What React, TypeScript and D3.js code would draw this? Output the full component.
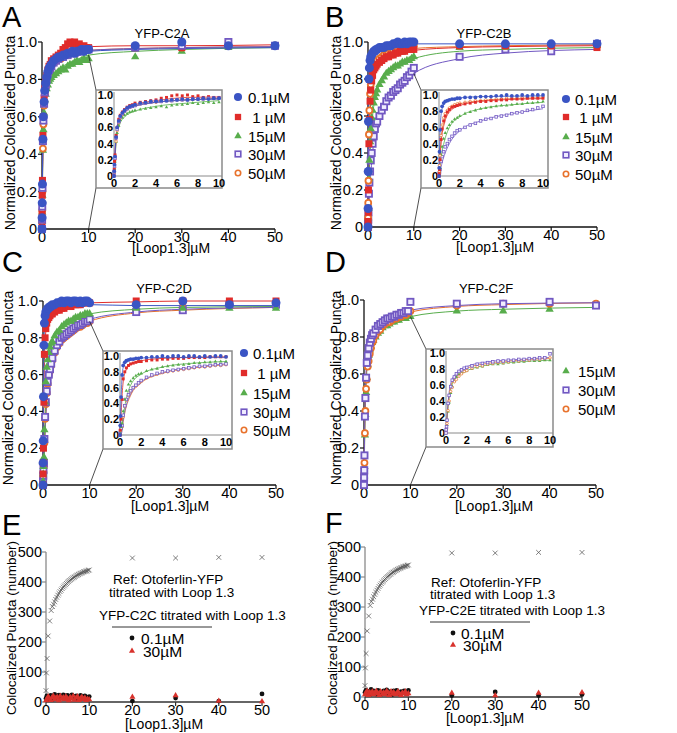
import React from "react";
import * as d3 from "d3";

// ---------------- data ----------------
const titrX = [0, 0.02, 0.05, 0.1, 0.2, 0.3, 0.45, 0.6, 0.8, 1, 1.25, 1.5, 1.75, 2, 2.5, 3, 3.5, 4, 4.5, 5, 5.5, 6, 6.5, 7, 7.5, 8, 8.5, 9, 9.5, 10, 20, 30, 40, 50];
const fitX = [0, 0.1, 0.25, 0.5, 1, 2, 4, 7, 10, 20, 30, 50];
const normTicksY = [0, 0.2, 0.4, 0.6, 0.8, 1.0];
const normTickLabelsY = ["0", "0.2", "0.4", "0.6", "0.8", "1.0"];
const loopTicks = [0, 10, 20, 30, 40, 50];
const insetTicksX = [0, 2, 4, 6, 8, 10];
const countTicksY = [0, 100, 200, 300, 400, 500];
const concKeys = ["0.1", "1", "15", "30", "50"];
const concLabels = ["0.1µM", "\u00a01 µM", "15µM", "30µM", "50µM"];

// Panel A (YFP-C2A)
const a01 = [0.0, 0.06, 0.14, 0.24, 0.48, 0.6, 0.68, 0.74, 0.78, 0.81, 0.84, 0.86, 0.87, 0.88, 0.9, 0.91, 0.92, 0.92, 0.93, 0.93, 0.94, 0.94, 0.95, 0.94, 0.95, 0.95, 0.96, 0.95, 0.96, 0.96, 0.98, 1.0, 0.98, 0.98];
const a1 = [0.01, 0.08, 0.18, 0.26, 0.5, 0.6, 0.7, 0.75, 0.79, 0.82, 0.85, 0.87, 0.88, 0.9, 0.91, 0.92, 0.93, 0.94, 0.96, 0.97, 0.99, 1.0, 0.99, 1.0, 0.98, 0.99, 0.97, 0.98, 0.97, 0.97, 0.97, 0.97, 0.99, 0.98];
const a15 = [0.0, 0.04, 0.09, 0.18, 0.42, 0.53, 0.62, 0.69, 0.72, 0.75, 0.77, 0.79, 0.8, 0.81, 0.82, 0.83, 0.84, 0.85, 0.86, 0.85, 0.87, 0.88, 0.88, 0.89, 0.9, 0.89, 0.9, 0.91, 0.9, 0.91, 0.92, 0.95, 0.97, 0.98];
const a30 = [0.0, 0.05, 0.12, 0.22, 0.47, 0.58, 0.67, 0.73, 0.77, 0.8, 0.83, 0.85, 0.86, 0.87, 0.89, 0.9, 0.91, 0.92, 0.92, 0.93, 0.93, 0.94, 0.94, 0.94, 0.95, 0.95, 0.95, 0.96, 0.96, 0.96, 0.97, 0.98, 1.0, 0.98];
const a50 = [0.0, 0.04, 0.1, 0.2, 0.43, 0.56, 0.66, 0.72, 0.76, 0.8, 0.83, 0.85, 0.86, 0.87, 0.89, 0.9, 0.91, 0.91, 0.92, 0.93, 0.93, 0.94, 0.94, 0.95, 0.95, 0.95, 0.96, 0.96, 0.96, 0.96, 0.97, 0.97, 0.98, 0.98];
const aFit01 = [0, 0.3, 0.55, 0.7, 0.8, 0.87, 0.91, 0.94, 0.95, 0.96, 0.965, 0.97];
const aFit1 = [0, 0.3, 0.56, 0.71, 0.81, 0.88, 0.93, 0.97, 0.975, 0.98, 0.98, 0.985];
const aFit15 = [0, 0.22, 0.47, 0.62, 0.73, 0.8, 0.86, 0.9, 0.93, 0.95, 0.96, 0.97];
const aFit30 = [0, 0.27, 0.52, 0.68, 0.79, 0.86, 0.91, 0.94, 0.955, 0.965, 0.97, 0.975];
const aFit50 = [0, 0.25, 0.5, 0.67, 0.78, 0.86, 0.91, 0.94, 0.955, 0.965, 0.97, 0.975];

// Panel B (YFP-C2B)
const b01 = [0.0, 0.1, 0.3, 0.57, 0.8, 0.86, 0.9, 0.92, 0.93, 0.94, 0.95, 0.95, 0.96, 0.96, 0.97, 0.97, 0.97, 0.98, 0.98, 0.98, 0.99, 0.99, 1.0, 0.99, 0.99, 1.0, 0.99, 1.0, 1.0, 1.0, 0.99, 0.99, 0.99, 0.99];
const b1 = [0.0, 0.03, 0.08, 0.2, 0.45, 0.58, 0.68, 0.74, 0.79, 0.82, 0.85, 0.86, 0.87, 0.88, 0.89, 0.9, 0.91, 0.92, 0.92, 0.93, 0.93, 0.94, 0.94, 0.95, 0.95, 0.95, 0.96, 0.96, 0.96, 0.96, 0.98, 0.98, 0.98, 0.97];
const b15 = [0.0, 0.02, 0.05, 0.1, 0.26, 0.36, 0.46, 0.53, 0.59, 0.63, 0.67, 0.7, 0.72, 0.74, 0.77, 0.79, 0.81, 0.83, 0.84, 0.85, 0.86, 0.87, 0.87, 0.88, 0.89, 0.89, 0.9, 0.9, 0.91, 0.92, 0.97, 0.97, 0.98, 0.98];
const b30 = [0.0, 0.02, 0.04, 0.08, 0.18, 0.24, 0.3, 0.36, 0.4, 0.45, 0.49, 0.53, 0.56, 0.57, 0.6, 0.63, 0.65, 0.68, 0.7, 0.71, 0.73, 0.74, 0.75, 0.77, 0.78, 0.79, 0.81, 0.82, 0.84, 0.86, 0.92, 0.96, 0.95, 0.99];
const b50 = [0.0, 0.05, 0.13, 0.25, 0.5, 0.63, 0.72, 0.77, 0.81, 0.84, 0.86, 0.88, 0.89, 0.9, 0.91, 0.92, 0.93, 0.93, 0.94, 0.94, 0.95, 0.95, 0.96, 0.96, 0.96, 0.97, 0.97, 0.97, 0.98, 0.98, 0.98, 0.98, 0.98, 0.98];
const bFit01 = [0, 0.55, 0.8, 0.89, 0.94, 0.965, 0.98, 0.985, 0.99, 0.99, 0.99, 0.99];
const bFit1 = [0, 0.22, 0.47, 0.64, 0.79, 0.87, 0.92, 0.945, 0.955, 0.97, 0.975, 0.98];
const bFit15 = [0, 0.12, 0.27, 0.42, 0.6, 0.73, 0.83, 0.88, 0.91, 0.95, 0.96, 0.97];
const bFit30 = [0, 0.05, 0.14, 0.25, 0.4, 0.56, 0.68, 0.77, 0.83, 0.91, 0.94, 0.96];
const bFit50 = [0, 0.28, 0.52, 0.68, 0.81, 0.89, 0.93, 0.955, 0.965, 0.975, 0.98, 0.985];

// Panel C (YFP-C2D)
const c01 = [0.0, 0.12, 0.24, 0.48, 0.76, 0.88, 0.92, 0.94, 0.95, 0.96, 0.96, 0.97, 0.97, 0.98, 0.98, 0.99, 0.99, 1.0, 0.99, 1.0, 1.0, 0.99, 1.0, 1.0, 0.99, 1.0, 0.99, 1.0, 1.0, 0.99, 0.98, 1.0, 0.98, 0.99];
const c1 = [0.0, 0.06, 0.12, 0.2, 0.45, 0.71, 0.8, 0.85, 0.88, 0.9, 0.91, 0.92, 0.93, 0.93, 0.94, 0.95, 0.95, 0.96, 0.96, 0.97, 0.97, 0.97, 0.98, 0.98, 0.98, 0.98, 0.99, 0.99, 0.99, 0.99, 1.0, 1.0, 1.0, 1.0];
const c15 = [0.0, 0.02, 0.06, 0.1, 0.15, 0.3, 0.45, 0.56, 0.64, 0.68, 0.72, 0.75, 0.77, 0.78, 0.81, 0.83, 0.84, 0.86, 0.87, 0.88, 0.89, 0.89, 0.9, 0.91, 0.91, 0.92, 0.92, 0.93, 0.93, 0.93, 0.96, 0.96, 0.96, 0.96];
const c30 = [0.0, 0.02, 0.05, 0.08, 0.12, 0.25, 0.37, 0.45, 0.51, 0.56, 0.6, 0.63, 0.66, 0.69, 0.73, 0.76, 0.78, 0.8, 0.81, 0.82, 0.83, 0.84, 0.85, 0.86, 0.87, 0.87, 0.88, 0.89, 0.89, 0.9, 0.94, 0.95, 0.98, 0.98];
const c50 = [0.0, 0.02, 0.04, 0.07, 0.1, 0.23, 0.36, 0.44, 0.5, 0.55, 0.6, 0.62, 0.65, 0.68, 0.72, 0.75, 0.77, 0.79, 0.8, 0.81, 0.82, 0.83, 0.84, 0.85, 0.86, 0.86, 0.87, 0.88, 0.88, 0.89, 0.95, 0.96, 0.99, 0.99];
const cFit01 = [0, 0.45, 0.82, 0.92, 0.96, 0.975, 0.98, 0.98, 0.98, 0.975, 0.975, 0.975];
const cFit1 = [0, 0.25, 0.6, 0.8, 0.89, 0.94, 0.97, 0.985, 0.99, 0.995, 1.0, 1.0];
const cFit15 = [0, 0.08, 0.2, 0.4, 0.63, 0.77, 0.86, 0.91, 0.93, 0.955, 0.965, 0.97];
const cFit30 = [0, 0.05, 0.15, 0.33, 0.52, 0.67, 0.79, 0.86, 0.9, 0.94, 0.955, 0.965];
const cFit50 = [0, 0.04, 0.13, 0.31, 0.5, 0.66, 0.78, 0.85, 0.89, 0.935, 0.95, 0.965];

// Panel D (YFP-C2F)
const d15 = [0.0, 0.02, 0.05, 0.1, 0.27, 0.38, 0.5, 0.58, 0.65, 0.7, 0.73, 0.75, 0.77, 0.78, 0.8, 0.82, 0.83, 0.85, 0.86, 0.86, 0.87, 0.88, 0.88, 0.89, 0.89, 0.9, 0.9, 0.9, 0.91, 0.91, 0.94, 0.94, 0.95, 0.97];
const d30 = [0.0, 0.04, 0.08, 0.16, 0.37, 0.47, 0.58, 0.66, 0.7, 0.74, 0.77, 0.79, 0.81, 0.82, 0.84, 0.86, 0.87, 0.88, 0.89, 0.9, 0.9, 0.91, 0.91, 0.92, 0.92, 0.93, 0.93, 0.94, 0.94, 0.99, 0.98, 0.98, 0.99, 0.97];
const d50 = [0.0, 0.03, 0.06, 0.12, 0.28, 0.4, 0.52, 0.57, 0.64, 0.67, 0.71, 0.74, 0.77, 0.78, 0.81, 0.83, 0.84, 0.86, 0.87, 0.88, 0.88, 0.89, 0.9, 0.9, 0.91, 0.91, 0.92, 0.92, 0.93, 0.94, 0.97, 0.98, 0.98, 0.98];
const dFit15 = [0, 0.17, 0.38, 0.57, 0.7, 0.78, 0.85, 0.89, 0.91, 0.94, 0.95, 0.96];
const dFit30 = [0, 0.22, 0.45, 0.64, 0.75, 0.83, 0.89, 0.92, 0.945, 0.97, 0.98, 0.985];
const dFit50 = [0, 0.2, 0.42, 0.6, 0.72, 0.81, 0.87, 0.91, 0.935, 0.965, 0.975, 0.985];

// Panels E / F: counts
const refConc = [0, 0.1, 0.25, 0.5, 0.85, 1.2, 1.5, 1.75, 2, 2.25, 2.5, 2.75, 3, 3.25, 3.5, 3.75, 4, 4.25, 4.5, 4.75, 5, 5.25, 5.5, 5.75, 6, 6.25, 6.5, 6.75, 7, 7.25, 7.5, 7.75, 8, 8.25, 8.5, 8.75, 9, 9.25, 9.5, 9.75, 10, 20, 30, 40, 50];
const otoferlinRef = [38, 97, 145, 220, 270, 305, 318, 326, 334, 342, 349, 356, 362, 368, 373, 378, 383, 387, 391, 395, 399, 402, 405, 408, 411, 414, 416, 418, 421, 423, 425, 427, 429, 430, 432, 434, 435, 436, 437, 439, 440, 480, 480, 482, 482];
const scatConc = [0, 0.2, 0.5, 0.8, 1.1, 1.4, 1.7, 2, 2.3, 2.6, 3, 3.3, 3.6, 4, 4.3, 4.6, 5, 5.3, 5.6, 6, 6.3, 6.6, 7, 7.3, 7.6, 8, 8.3, 8.6, 9, 9.3, 9.6, 10, 20, 30, 40, 50];
const eC2C01 = [12, 20, 15, 8, 22, 18, 10, 25, 14, 20, 23, 12, 18, 24, 15, 20, 22, 10, 19, 24, 13, 18, 20, 9, 16, 22, 12, 18, 20, 15, 10, 18, 3, 13, 3, 27];
const eC2C30 = [5, 10, 18, 12, 6, 15, 20, 8, 13, 17, 5, 20, 10, 15, 8, 18, 12, 5, 16, 10, 20, 7, 14, 18, 6, 12, 17, 9, 14, 6, 10, 8, 17, 22, 3, 2];
const fC2E01 = [15, 22, 10, 18, 8, 25, 12, 20, 15, 10, 22, 18, 8, 16, 20, 12, 24, 10, 18, 14, 8, 20, 12, 22, 16, 10, 18, 14, 20, 12, 16, 22, 5, 17, 5, 8];
const fC2E30 = [8, 14, 20, 6, 16, 10, 18, 8, 14, 20, 12, 6, 18, 10, 15, 8, 20, 14, 6, 18, 10, 16, 8, 12, 18, 10, 6, 14, 12, 18, 8, 12, 13, 5, 13, 15];

// ---------------- styling ----------------
const FONT = "'Liberation Sans', Arial, sans-serif";
const COLORS: Record<string, string> = {
  "0.1": "#3a54c4",
  "1": "#e02c2a",
  "15": "#58ad4c",
  "30": "#7158c2",
  "50": "#e8722c",
};

type Series = { key: string; y: number[]; fit: number[] };

function Marker({ k, x, y, s }: { k: string; x: number; y: number; s: number }) {
  const c = COLORS[k];
  if (k === "0.1") return <circle cx={x} cy={y} r={4.5 * s} fill={c} />;
  if (k === "1") {
    const w = 7 * s;
    return <rect x={x - w / 2} y={y - w / 2} width={w} height={w} fill={c} />;
  }
  if (k === "15")
    return <path transform={`translate(${x},${y})`} d={d3.symbol(d3.symbolTriangle, 30 * s * s)() || ""} fill={c} />;
  if (k === "30") {
    const w = 6.2 * s;
    return <rect x={x - w / 2} y={y - w / 2} width={w} height={w} fill="#f1edff" stroke={c} strokeWidth={1.8 * s} />;
  }
  return <circle cx={x} cy={y} r={3.0 * s} fill="#fff" stroke={c} strokeWidth={1.8 * s} />;
}

type NormCfg = {
  letter: string; lx: number; ly: number;
  title: string; tx: number; ty: number;
  x0: number; x1: number; yb: number; yt: number;
  ylabX: number; ylabY: number; xlabX: number; xlabY: number;
  frame: [number, number, number, number];
  ix0: number; ix1: number; iyb: number; iyt: number;
  legX: number; legTX: number; legY: number[];
};

function NormPanel({ cfg, series }: { cfg: NormCfg; series: Series[] }) {
  const xs = d3.scaleLinear().domain([0, 50]).range([cfg.x0, cfg.x1]);
  const ys = d3.scaleLinear().domain([0, 1]).range([cfg.yb, cfg.yt]);
  const ixs = d3.scaleLinear().domain([0, 10]).range([cfg.ix0, cfg.ix1]);
  const iys = d3.scaleLinear().domain([0, 1]).range([cfg.iyb, cfg.iyt]);
  const mainLine = d3.line<[number, number]>().x((d) => xs(d[0])).y((d) => ys(d[1])).curve(d3.curveMonotoneX);
  const insetLine = d3.line<[number, number]>().x((d) => ixs(d[0])).y((d) => iys(d[1])).curve(d3.curveMonotoneX);
  const i10 = fitX.indexOf(10);
  const lowAt10 = d3.min(series, (s) => s.fit[i10]) as number;
  const [fl, ft, fr, fb] = cfg.frame;
  const legendKeys = concKeys.filter((k) => series.some((s) => s.key === k));
  return (
    <g>
      <text x={cfg.lx} y={cfg.ly} fontSize={29} fontFamily={FONT}>{cfg.letter}</text>
      <text x={cfg.tx} y={cfg.ty} fontSize={13} fontFamily={FONT} textAnchor="middle">{cfg.title}</text>
      <text transform={`translate(${cfg.ylabX},${cfg.ylabY}) rotate(-90)`} fontSize={14} fontFamily={FONT} textAnchor="middle">
        Normalized Colocalized Puncta
      </text>
      <text x={cfg.xlabX} y={cfg.xlabY} fontSize={14} fontFamily={FONT} textAnchor="middle">[Loop1.3]µM</text>
      {/* axes */}
      <line x1={cfg.x0} x2={cfg.x0} y1={cfg.yb} y2={cfg.yt} stroke="#111" strokeWidth={1.3} />
      <line x1={cfg.x0} x2={cfg.x1} y1={cfg.yb} y2={cfg.yb} stroke="#111" strokeWidth={1.3} />
      {normTicksY.map((t, i) => (
        <g key={"yt" + i}>
          <line x1={cfg.x0 - 4} x2={cfg.x0} y1={ys(t)} y2={ys(t)} stroke="#111" strokeWidth={1.2} />
          <text x={cfg.x0 - 5} y={ys(t) + 5} fontSize={14.5} fontFamily={FONT} textAnchor="end">{normTickLabelsY[i]}</text>
        </g>
      ))}
      {loopTicks.map((t) => (
        <g key={"xt" + t}>
          <line x1={xs(t)} x2={xs(t)} y1={cfg.yb} y2={cfg.yb + 4} stroke="#111" strokeWidth={1.2} />
          <text x={xs(t)} y={cfg.yb + 13} fontSize={14.5} fontFamily={FONT} textAnchor="middle">{t}</text>
        </g>
      ))}
      {/* fit lines */}
      {series.map((s) => (
        <path key={"fl" + s.key} d={mainLine(fitX.map((x, i) => [x, s.fit[i]] as [number, number])) || ""} fill="none" stroke={COLORS[s.key]} strokeWidth={1} />
      ))}
      {/* data */}
      {series.map((s) => (
        <g key={"pts" + s.key}>
          {titrX.map((x, i) => (
            <Marker key={i} k={s.key} x={xs(x)} y={ys(s.y[i])} s={1} />
          ))}
        </g>
      ))}
      {/* connectors */}
      <line x1={xs(10)} y1={ys(lowAt10)} x2={fl} y2={ft} stroke="#222" strokeWidth={0.8} />
      <line x1={xs(10)} y1={cfg.yb} x2={fl} y2={fb} stroke="#222" strokeWidth={0.8} />
      {/* inset */}
      <rect x={fl} y={ft} width={fr - fl} height={fb - ft} fill="#fff" stroke="#8a8a8a" strokeWidth={1.5} />
      <line x1={cfg.ix0} x2={cfg.ix0} y1={cfg.iyb} y2={ft + 2} stroke="#8a8a8a" strokeWidth={1} />
      <line x1={cfg.ix0} x2={fr} y1={cfg.iyb} y2={cfg.iyb} stroke="#8a8a8a" strokeWidth={1} />
      {normTicksY.map((t, i) => (
        <text key={"iy" + i} x={cfg.ix0 - 1} y={iys(t) + 4} fontSize={11} fontWeight="bold" fontFamily={FONT} textAnchor="end">
          {normTickLabelsY[i]}
        </text>
      ))}
      {insetTicksX.map((t) => (
        <text key={"ix" + t} x={ixs(t)} y={cfg.iyb + 10.5} fontSize={11} fontWeight="bold" fontFamily={FONT} textAnchor="middle">
          {t}
        </text>
      ))}
      {series.map((s) => (
        <path key={"ifl" + s.key}
          d={insetLine(fitX.map((x, i) => [x, s.fit[i]] as [number, number]).filter((p) => p[0] <= 10)) || ""}
          fill="none" stroke={COLORS[s.key]} strokeWidth={0.8} />
      ))}
      {series.map((s) => (
        <g key={"ipts" + s.key}>
          {titrX.map((x, i) => (x <= 10 ? <Marker key={i} k={s.key} x={ixs(x)} y={iys(s.y[i])} s={0.42} /> : null))}
        </g>
      ))}
      {/* legend */}
      {legendKeys.map((k, j) => (
        <g key={"lg" + k}>
          <Marker k={k} x={cfg.legX} y={cfg.legY[j]} s={0.9} />
          <text x={cfg.legTX} y={cfg.legY[j] + 5.5} fontSize={15} fontFamily={FONT}>{concLabels[concKeys.indexOf(k)]}</text>
        </g>
      ))}
    </g>
  );
}

type CountCfg = {
  letter: string; lx: number; ly: number;
  x0: number; x1: number; yb: number; yt: number;
  ylabX: number; ylabY: number; xlabX: number; xlabY: number;
  ref1: [number, number]; ref2: [number, number]; head: [number, number];
  rule: [number, number, number];
  leg1: [number, number]; leg2: [number, number]; legTX: number;
  headText: string;
};

function CountPanel({ cfg, black, red }: { cfg: CountCfg; black: number[]; red: number[] }) {
  const xs = d3.scaleLinear().domain([0, 50]).range([cfg.x0, cfg.x1]);
  const ys = d3.scaleLinear().domain([0, 500]).range([cfg.yb, cfg.yt]);
  const tri = (a: number) => d3.symbol(d3.symbolTriangle, a)() || "";
  const cr = 2.4;
  return (
    <g fontFamily={FONT}>
      <text x={cfg.lx} y={cfg.ly} fontSize={29}>{cfg.letter}</text>
      <text transform={`translate(${cfg.ylabX},${cfg.ylabY}) rotate(-90)`} fontSize={13.5} textAnchor="middle">
        Colocalized Puncta (number)
      </text>
      <text x={cfg.xlabX} y={cfg.xlabY} fontSize={14} textAnchor="middle">[Loop1.3]µM</text>
      <line x1={cfg.x0} x2={cfg.x0} y1={cfg.yb} y2={cfg.yt} stroke="#8a8a8a" strokeWidth={1.3} />
      <line x1={cfg.x0} x2={cfg.x1} y1={cfg.yb} y2={cfg.yb} stroke="#333" strokeWidth={1.3} />
      {countTicksY.map((t) => (
        <g key={"yt" + t}>
          <line x1={cfg.x0 - 4} x2={cfg.x0} y1={ys(t)} y2={ys(t)} stroke="#8a8a8a" strokeWidth={1.2} />
          <text x={cfg.x0 - 4} y={ys(t) + 5} fontSize={14.5} textAnchor="end">{t}</text>
        </g>
      ))}
      {loopTicks.map((t) => (
        <g key={"xt" + t}>
          <line x1={xs(t)} x2={xs(t)} y1={cfg.yb} y2={cfg.yb + 4} stroke="#333" strokeWidth={1.2} />
          <text x={xs(t)} y={cfg.yb + 13} fontSize={14.5} textAnchor="middle">{t}</text>
        </g>
      ))}
      {refConc.map((x, i) => {
        const px = xs(x), py = ys(otoferlinRef[i]);
        return (
          <path key={"r" + i} d={`M${px - cr},${py - cr}L${px + cr},${py + cr}M${px - cr},${py + cr}L${px + cr},${py - cr}`}
            stroke="#555" strokeWidth={0.75} fill="none" />
        );
      })}
      {scatConc.map((x, i) => (
        <circle key={"b" + i} cx={xs(x)} cy={ys(black[i])} r={2.4} fill="#111" />
      ))}
      {scatConc.map((x, i) => (
        <path key={"t" + i} transform={`translate(${xs(x)},${ys(red[i])})`} d={tri(16)} fill="#d8322c" />
      ))}
      <text x={cfg.ref1[0]} y={cfg.ref1[1]} fontSize={13.5}>Ref: Otoferlin-YFP</text>
      <text x={cfg.ref2[0]} y={cfg.ref2[1]} fontSize={13.5}>titrated with Loop 1.3</text>
      <text x={cfg.head[0]} y={cfg.head[1]} fontSize={13.5}>{cfg.headText}</text>
      <line x1={cfg.rule[0]} x2={cfg.rule[1]} y1={cfg.rule[2]} y2={cfg.rule[2]} stroke="#333" strokeWidth={1} />
      <circle cx={cfg.leg1[0]} cy={cfg.leg1[1]} r={2.4} fill="#111" />
      <text x={cfg.legTX} y={cfg.leg1[1] + 5.5} fontSize={15.5}>0.1µM</text>
      <path transform={`translate(${cfg.leg2[0]},${cfg.leg2[1]})`} d={tri(16)} fill="#d8322c" />
      <text x={cfg.legTX + 2} y={cfg.leg2[1] + 5.5} fontSize={15.5}>30µM</text>
    </g>
  );
}

const cfgA: NormCfg = {
  letter: "A", lx: 2, ly: 27, title: "YFP-C2A", tx: 162, ty: 38,
  x0: 42, x1: 275, yb: 229, yt: 42, ylabX: 15, ylabY: 133, xlabX: 171, xlabY: 253,
  frame: [96, 90, 222, 188], ix0: 114, ix1: 219, iyb: 176, iyt: 95,
  legX: 238, legTX: 248, legY: [97, 117, 136, 154, 173],
};
const cfgB: NormCfg = {
  letter: "B", lx: 325, ly: 27, title: "YFP-C2B", tx: 484, ty: 38,
  x0: 368, x1: 597, yb: 227, yt: 42, ylabX: 341, ylabY: 133, xlabX: 495, xlabY: 252,
  frame: [421, 90, 548, 188], ix0: 439, ix1: 543, iyb: 176, iyt: 95,
  legX: 566, legTX: 575, legY: [99, 117, 137, 155, 174],
};
const cfgC: NormCfg = {
  letter: "C", lx: 2, ly: 272, title: "YFP-C2D", tx: 164, ty: 293,
  x0: 43, x1: 276, yb: 485, yt: 301, ylabX: 13, ylabY: 388, xlabX: 170, xlabY: 511,
  frame: [103, 351, 232, 449], ix0: 120, ix1: 226, iyb: 435, iyt: 356,
  legX: 244, legTX: 253, legY: [353, 373, 393, 412, 430],
};
const cfgD: NormCfg = {
  letter: "D", lx: 325, ly: 272, title: "YFP-C2F", tx: 486, ty: 293,
  x0: 364, x1: 596, yb: 485, yt: 300, ylabX: 341, ylabY: 388, xlabX: 494, xlabY: 511,
  frame: [426, 349, 553, 447], ix0: 446, ix1: 550, iyb: 433, iyt: 353,
  legX: 566, legTX: 578, legY: [371, 390, 409],
};
const cfgE: CountCfg = {
  letter: "E", lx: 2, ly: 535, x0: 46, x1: 262, yb: 702, yt: 552,
  ylabX: 16, ylabY: 628, xlabX: 164, xlabY: 729,
  ref1: [113, 584], ref2: [109, 597], head: [99, 620], rule: [112, 212, 627],
  leg1: [132, 638], leg2: [132, 651], legTX: 141, headText: "YFP-C2C titrated with Loop 1.3",
};
const cfgF: CountCfg = {
  letter: "F", lx: 325, ly: 533, x0: 365, x1: 582, yb: 697, yt: 547,
  ylabX: 337, ylabY: 628, xlabX: 485, xlabY: 723,
  ref1: [431, 587], ref2: [430, 599], head: [419, 615], rule: [430, 530, 622],
  leg1: [453, 633], leg2: [453, 645], legTX: 461, headText: "YFP-C2E titrated with Loop 1.3",
};

export default function App() {
  const seriesA: Series[] = [
    { key: "15", y: a15, fit: aFit15 },
    { key: "50", y: a50, fit: aFit50 },
    { key: "1", y: a1, fit: aFit1 },
    { key: "30", y: a30, fit: aFit30 },
    { key: "0.1", y: a01, fit: aFit01 },
  ];
  const seriesB: Series[] = [
    { key: "30", y: b30, fit: bFit30 },
    { key: "15", y: b15, fit: bFit15 },
    { key: "50", y: b50, fit: bFit50 },
    { key: "1", y: b1, fit: bFit1 },
    { key: "0.1", y: b01, fit: bFit01 },
  ];
  const seriesC: Series[] = [
    { key: "50", y: c50, fit: cFit50 },
    { key: "30", y: c30, fit: cFit30 },
    { key: "15", y: c15, fit: cFit15 },
    { key: "1", y: c1, fit: cFit1 },
    { key: "0.1", y: c01, fit: cFit01 },
  ];
  const seriesD: Series[] = [
    { key: "15", y: d15, fit: dFit15 },
    { key: "50", y: d50, fit: dFit50 },
    { key: "30", y: d30, fit: dFit30 },
  ];
  return (
    <svg width={677} height={733} style={{ position: "absolute", left: 0, top: 0, background: "#fff" }}>
      <rect width={677} height={733} fill="#fff" />
      <NormPanel cfg={cfgA} series={seriesA} />
      <NormPanel cfg={cfgB} series={seriesB} />
      <NormPanel cfg={cfgC} series={seriesC} />
      <NormPanel cfg={cfgD} series={seriesD} />
      <CountPanel cfg={cfgE} black={eC2C01} red={eC2C30} />
      <CountPanel cfg={cfgF} black={fC2E01} red={fC2E30} />
    </svg>
  );
}
